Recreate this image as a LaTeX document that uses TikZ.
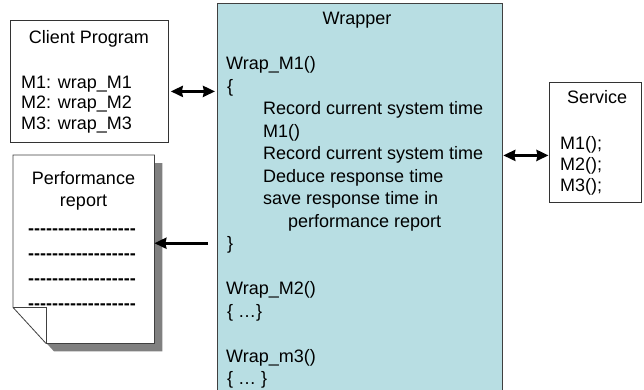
\documentclass[tikz,border=0pt]{standalone}
\usepackage{fontspec}
\setmainfont{Liberation Sans}
\usepackage{xcolor}
\usetikzlibrary{arrows.meta,calc}

\definecolor{wrapblue}{RGB}{184,222,227}
\definecolor{shadowgray}{RGB}{128,128,128}

% a row of hyphens, kept apart so they stay hyphens
\newcommand{\dashrow}{\bfseries -{}-{}-{}-{}-{}-{}-{}-{}-{}-{}-{}-{}-{}-{}-{}-{}-{}-}

\tikzset{
	txt/.style={inner sep=0pt, text height=13pt, text depth=0pt, font=\fontsize{18}{21}\selectfont},
	box/.style={draw=black!80, line width=0.8pt, fill=white, anchor=north west, inner sep=0pt},
	fat/.style={line width=3pt, >={Stealth[length=12pt,width=11pt,inset=1pt]}},
}

\begin{document}
\begin{tikzpicture}[x=1pt,y=-1pt]
	\clip (0,0) rectangle (644,389);
	% the three boxes
	\node[box, fill=wrapblue, draw=black!75, minimum width=285pt, minimum height=400pt] (wrapper) at (217,3) {};
	\node[box, minimum width=158pt, minimum height=122pt] (client) at (10,20) {};
	\node[box, minimum width=92pt, minimum height=120pt] (service) at (549,82) {};
	\node[anchor=north west, inner sep=0pt, minimum width=141pt, minimum height=188pt] (report) at (13,155) {};

	% report sheet with shadow and folded corner
	\fill[shadowgray] ([shift={(8,8)}]report.north west) -- ([shift={(8,8)}]report.north east) -- ([shift={(8,8)}]report.south east) -- ([shift={(41,8)}]report.south west) -- ([shift={(8,-28)}]report.south west) -- cycle;
	\draw[fill=white, draw=black!75, line width=0.8pt] (report.north west) -- (report.north east) -- (report.south east) -- ([xshift=33pt]report.south west) -- ([yshift=36pt]report.south west) -- cycle;
	\draw[draw=black!75, line width=0.8pt] ([yshift=36pt]report.south west) -- ([shift={(33,-36)}]report.south west) -- ([xshift=33pt]report.south west);

	% client
	\node[txt] (ctitle) at (89,37) {Client Program};
	\node[txt,anchor=west] (c1) at (21,81.5) {M1: wrap\_M1};
	\node[txt,anchor=west] (c2) at (21,102) {M2: wrap\_M2};
	\node[txt,anchor=west] (c3) at (21,122.5) {M3: wrap\_M3};

	% service
	\node[txt] (stitle) at (597,97) {Service};
	\node[txt,anchor=west] (s1) at (560,143) {M1();};
	\node[txt,anchor=west] (s2) at (560,164) {M2();};
	\node[txt,anchor=west] (s3) at (560,185) {M3();};

	% report text
	\node[txt] (rtitle) at (83.5,178) {Performance};
	\node[txt] (rtitle2) at (83.5,200) {report};
	\foreach \y/\n in {228/r1,253/r2,278/r3,303/r4}
		\node[txt] (\n) at (82,\y) {\dashrow};

	% wrapper code
	\node[txt] (wtitle) at (357,18) {Wrapper};
	\node[txt,anchor=west] (m1head) at (226,63) {Wrap\_M1()};
	\node[txt,anchor=west] (m1open) at (227,85.5) {\{};
	\node[txt,anchor=west] (rec1) at (263,108) {Record current system time};
	\node[txt,anchor=west] (callm1) at (263,130.5) {M1()};
	\node[txt,anchor=west] (rec2) at (263,153) {Record current system time};
	\node[txt,anchor=west] (deduce) at (263,175.5) {Deduce response time};
	\node[txt,anchor=west] (save) at (263,198) {save response time in};
	\node[txt,anchor=west] (save2) at (288,220.5) {performance report};
	\node[txt,anchor=west] (m1close) at (227,243) {\}};
	\node[txt,anchor=west] (m2head) at (226,288) {Wrap\_M2()};
	\node[txt,anchor=west] (m2body) at (227,310.5) {\{ …\}};
	\node[txt,anchor=west] (m3head) at (226,355.5) {Wrap\_m3()};
	\node[txt,anchor=west] (m3body) at (227,378) {\{ … \}};

	% arrows
	\coordinate (cin) at ([yshift=-10pt]client.east);
	\coordinate (sin) at ([yshift=-13pt]service.west);
	\coordinate (rin) at ([yshift=6pt]report.east);
	\draw[fat,<->,shorten <=2pt,shorten >=2pt] (cin) -- (cin -| wrapper.west);
	\draw[fat,<->,shorten <=0.5pt,shorten >=0.5pt] (sin -| wrapper.east) -- (sin);
	\draw[fat,->,shorten <=9pt] (rin -| wrapper.west) -- (rin);
\end{tikzpicture}
\end{document}
